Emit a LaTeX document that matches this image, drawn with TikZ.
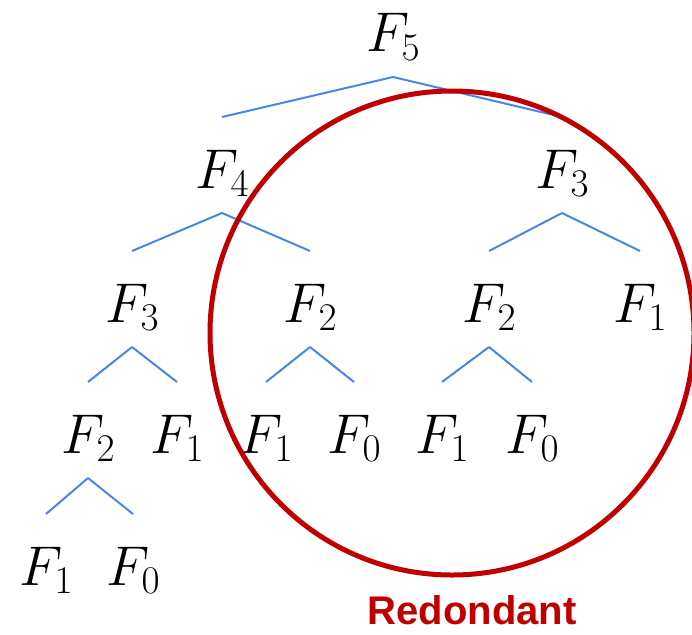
\RequirePackage{fix-cm}
\documentclass[tikz,border=0pt]{standalone}
\usepackage{fontspec}
\setsansfont{Liberation Sans}
\definecolor{TreeBlue}{RGB}{74, 134, 232}
\definecolor{RedoRed}{RGB}{192, 0, 0}
\usetikzlibrary{calc}

\begin{document}
\begin{tikzpicture}[
      x=1pt, y=-1pt,
      fib/.style={inner sep=0pt, anchor=base, font=\fontsize{56}{60}\selectfont},
      branch/.style={draw=TreeBlue, line width=2pt},
      redo/.style={draw=RedoRed, line width=5pt},
      tag/.style={anchor=base, text=RedoRed, font=\sffamily\bfseries\fontsize{40}{44}\selectfont}
    ]
      \useasboundingbox (0,0) rectangle (692,634);
      % one call tree level per row (baselines)
      \node[fib] (f5) at (393, 52) {$F_5$};
      \node[fib] (f4) at (222, 188) {$F_4$};
      \node[fib] (f3r) at (562, 188) {$F_3$};
      \node[fib] (f3l) at (132, 322) {$F_3$};
      \node[fib] (f2a) at (310, 322) {$F_2$};
      \node[fib] (f2b) at (489, 322) {$F_2$};
      \node[fib] (f1a) at (640, 322) {$F_1$};
      \node[fib] (f2c) at (88, 453) {$F_2$};
      \node[fib] (f1b) at (177, 453) {$F_1$};
      \node[fib] (f1c) at (266, 453) {$F_1$};
      \node[fib] (f0a) at (354, 453) {$F_0$};
      \node[fib] (f1d) at (442, 453) {$F_1$};
      \node[fib] (f0b) at (532, 453) {$F_0$};
      \node[fib] (f1e) at (46, 585) {$F_1$};
      \node[fib] (f0c) at (133, 585) {$F_0$};
      % branches: from just below the parent to just above the child
      \def\branchto#1#2{\draw[branch] ($(#1.base)+(0,25)$) -- ($(#2.base)+(0,-71)$);}
      \branchto{f5}{f4}
      \branchto{f5}{f3r}
      \branchto{f4}{f3l}
      \branchto{f4}{f2a}
      \branchto{f3r}{f2b}
      \branchto{f3r}{f1a}
      \branchto{f3l}{f2c}
      \branchto{f3l}{f1b}
      \branchto{f2a}{f1c}
      \branchto{f2a}{f0a}
      \branchto{f2b}{f1d}
      \branchto{f2b}{f0b}
      \branchto{f2c}{f1e}
      \branchto{f2c}{f0c}
      % repeated work
      \coordinate (redo) at (452, 333);
      \draw[redo] (redo) circle[radius=242];
      \node[tag] (lbl) at (472, 624) {Redondant};
    \end{tikzpicture}
\end{document}
